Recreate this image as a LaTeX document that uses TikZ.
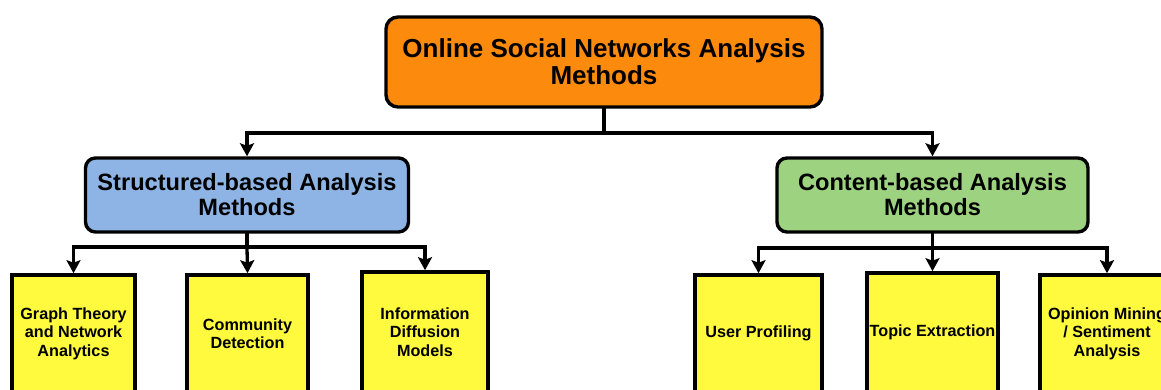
\documentclass[tikz,border=0pt]{standalone}
\usepackage{fontspec}
\setmainfont{Liberation Sans}
\usetikzlibrary{arrows.meta}
\definecolor{rootorange}{RGB}{252,138,12}
\definecolor{structblue}{RGB}{141,180,228}
\definecolor{contentgreen}{RGB}{157,211,128}
\definecolor{leafyellow}{RGB}{255,250,62}
\tikzset{
  x=1pt, y=1pt,
  box/.style={draw=black, line width=3.4pt, align=center, inner sep=0pt,
    font=\bfseries},
  rootbox/.style={box, fill=rootorange, rounded corners=12pt,
    font=\bfseries\fontsize{26}{27}\selectfont},
  groupbox/.style={box, rounded corners=10pt,
    font=\bfseries\fontsize{23.6}{25}\selectfont},
  leafbox/.style={box, fill=leafyellow, line width=3.6pt,
    font=\bfseries\fontsize{16.2}{18.5}\selectfont},
  link/.style={line width=3.3pt, line cap=round},
  arrowlink/.style={link, -{Stealth[length=13pt,width=14pt,inset=2.5pt]}},
}
\begin{document}
\begin{tikzpicture}
\clip (0,0) rectangle (1161,390);
\fill[white] (0,0) rectangle (1161,390);

% root of the hierarchy
\node[rootbox, minimum width=436, minimum height=90] (root) at (604,328)
  {Online Social Networks Analysis\\Methods};

% the two families of methods
\node[groupbox, fill=structblue, minimum width=323, minimum height=74] (struct) at (247,195)
  {Structured-based Analysis\\Methods};
\node[groupbox, fill=contentgreen, minimum width=311, minimum height=74] (content) at (932.5,195)
  {Content-based Analysis\\Methods};

% individual methods
\node[leafbox, minimum width=123, minimum height=117] (graph) at (73.5,56.5)
  {Graph Theory\\and Network\\Analytics};
\node[leafbox, minimum width=121, minimum height=117] (community) at (247.5,56.5)
  {Community\\Detection};
\node[leafbox, minimum width=126, minimum height=120] (diffusion) at (425,58)
  {Information\\Diffusion\\Models};
\node[leafbox, minimum width=127, minimum height=117] (profiling) at (758.5,56.5)
  {User Profiling};
\node[leafbox, minimum width=131, minimum height=119] (topic) at (932.5,57.5)
  {Topic Extraction};
\node[leafbox, minimum width=134, minimum height=117] (opinion) at (1107,56.5)
  {Opinion Mining\\/ Sentiment\\Analysis};

% branching points of the connectors
\coordinate (busroot) at (604,257);
\coordinate (busstruct) at (247,143);
\coordinate (buscontent) at (932.5,142);

\draw[link] (root.south) -- (busroot);
\draw[arrowlink] (busroot) -| (struct.north);
\draw[arrowlink] (busroot) -| (content.north);

\draw[link] (struct.south) -- (busstruct);
\draw[arrowlink] (busstruct) -| (graph.north);
\draw[arrowlink] (busstruct) -- (community.north);
\draw[arrowlink] (busstruct) -| (diffusion.north);

\draw[link] (content.south) -- (buscontent);
\draw[arrowlink] (buscontent) -| (profiling.north);
\draw[arrowlink] (buscontent) -- (topic.north);
\draw[arrowlink] (buscontent) -| (opinion.north);
\end{tikzpicture}
\end{document}
